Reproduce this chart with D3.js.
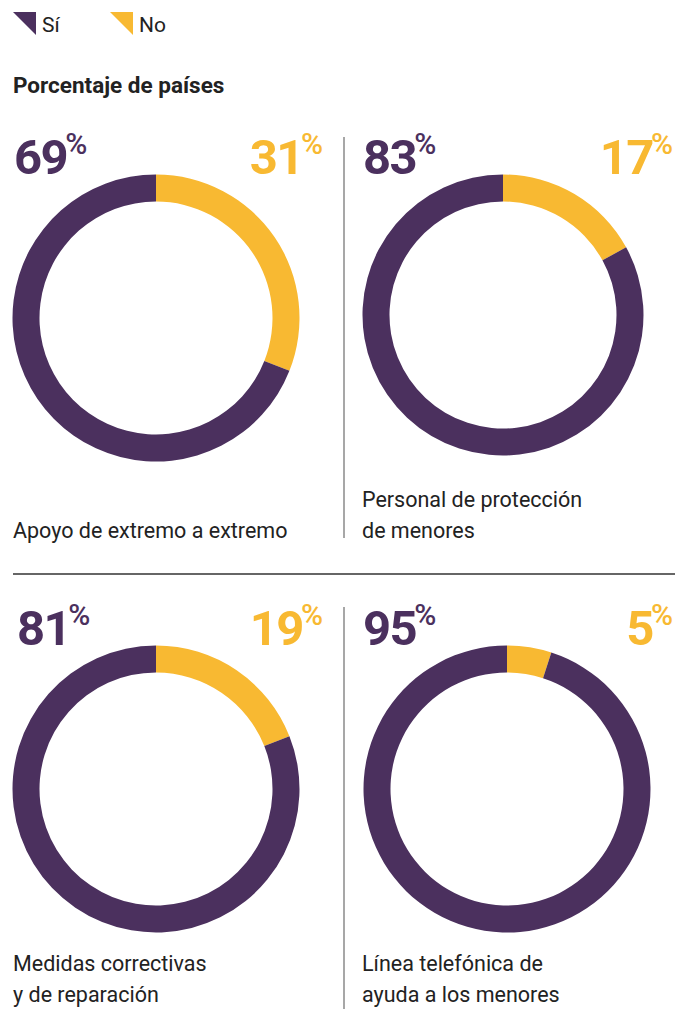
<!DOCTYPE html>
<html>
<head>
<meta charset="utf-8">
<script src="https://cdn.jsdelivr.net/npm/d3@7"></script>
<style>
  body { margin: 0; background: #fff; }
  text { font-family: Roboto, "Noto Sans", sans-serif; }
</style>
</head>
<body>
<div id="chart"></div>
<script>
// data
var categories = ["Apoyo de extremo a extremo", "Personal de protección de menores",
  "Medidas correctivas y de reparación", "Línea telefónica de ayuda a los menores"];
var labelLines = [
  ["Apoyo de extremo a extremo"],
  ["Personal de protección", "de menores"],
  ["Medidas correctivas", "y de reparación"],
  ["Línea telefónica de", "ayuda a los menores"]
];
var siValues = [69, 83, 81, 95];
var noValues = [31, 17, 19, 5];
var legendLabels = ["Sí", "No"];
var subtitle = "Porcentaje de países";

var purple = "#4b305e";
var yellow = "#f8b932";
var ink = "#222";

var svgWidth = 688;
var svgHeight = 1013;

var svg = d3.select("#chart")
  .append("svg")
  .attr("width", svgWidth)
  .attr("height", svgHeight);

// panel layout (2 x 2)
var panels = [
  { left: 14, labelX: 13, right: 323, cx: 156, cy: 318, r: 143.5, labelBase: 538 },
  { left: 363, labelX: 362, right: 673, cx: 503, cy: 315, r: 140.5, labelBase: 538 },
  { left: 17, labelX: 13, right: 323, cx: 156, cy: 789, r: 143.5, labelBase: 1002 },
  { left: 363, labelX: 362, right: 673, cx: 507, cy: 789, r: 143.5, labelBase: 1002 }
];
var ringWidth = 27;
var lineHeight = 31;

// legend
var legend = svg.append("g");
legendLabels.forEach(function(lab, i) {
  var x = i === 0 ? 13 : 110;
  legend.append("path")
    .attr("d", `M${x},12 L${x + 23},12 L${x + 23},35 Z`)
    .attr("fill", i === 0 ? purple : yellow);
  legend.append("text")
    .attr("x", x + 29)
    .attr("y", 32)
    .attr("font-size", 21)
    .attr("fill", ink)
    .text(lab);
});

svg.append("text")
  .attr("x", 13)
  .attr("y", 93)
  .attr("font-size", 22.5)
  .attr("font-weight", 700)
  .attr("fill", ink)
  .text(subtitle);

// dividers
svg.append("line")
  .attr("x1", 13).attr("x2", 675)
  .attr("y1", 574).attr("y2", 574)
  .attr("stroke", "#333").attr("stroke-width", 1.3);

[[137, 538], [607, 1009]].forEach(function(d) {
  svg.append("line")
    .attr("x1", 344).attr("x2", 344)
    .attr("y1", d[0]).attr("y2", d[1])
    .attr("stroke", "#8a8a8a").attr("stroke-width", 1.5);
});

var pie = d3.pie().sort(null).value(d => d.value);

categories.forEach(function(cat, i) {
  var p = panels[i];
  var g = svg.append("g");

  var slices = pie([
    { key: "No", value: noValues[i] },
    { key: "Sí", value: siValues[i] }
  ]);

  var arc = d3.arc()
    .innerRadius(p.r - ringWidth)
    .outerRadius(p.r);

  g.append("g")
    .attr("transform", `translate(${p.cx}, ${p.cy})`)
    .selectAll("path")
    .data(slices)
    .enter()
    .append("path")
    .attr("d", arc)
    .attr("fill", d => d.data.key === "No" ? yellow : purple);

  // big percentages
  var base = p.cy - p.r - 1;

  var si = g.append("text")
    .attr("x", p.left)
    .attr("y", base)
    .attr("fill", purple);
  si.append("tspan").attr("font-size", 49).attr("font-weight", 700)
    .attr("letter-spacing", -1.5).text(siValues[i]);
  si.append("tspan").attr("font-size", 30).attr("font-weight", 500)
    .attr("dx", -2).attr("dy", -20).text("%");

  var no = g.append("text")
    .attr("x", p.right)
    .attr("y", base)
    .attr("text-anchor", "end")
    .attr("fill", yellow);
  no.append("tspan").attr("font-size", 49).attr("font-weight", 700)
    .attr("letter-spacing", -1.5).text(noValues[i]);
  no.append("tspan").attr("font-size", 30).attr("font-weight", 500)
    .attr("dx", -2).attr("dy", -20).text("%");

  // category label, bottom aligned
  var lines = labelLines[i];
  g.selectAll("text.lab")
    .data(lines)
    .enter()
    .append("text")
    .attr("class", "lab")
    .attr("x", p.labelX)
    .attr("y", (d, j) => p.labelBase - (lines.length - 1 - j) * lineHeight)
    .attr("font-size", 21.5)
    .attr("fill", ink)
    .text(d => d);
});
</script>
</body>
</html>
